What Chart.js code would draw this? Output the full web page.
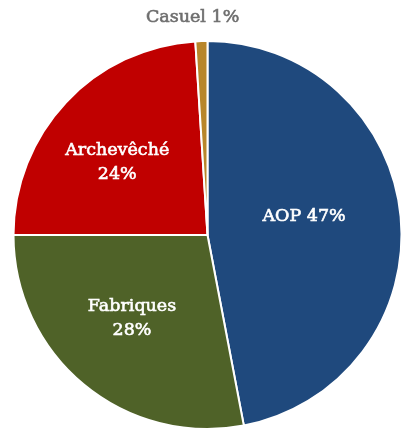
<!DOCTYPE html>
<html lang="fr">
<head>
    <meta charset="UTF-8">
    <title>Répartition des ressources</title>
    <style>
        body { margin: 0; padding: 0; background: #ffffff; }
        .chart-container { width: 408px; height: 430px; }
    </style>
    <script src="https://cdn.jsdelivr.net/npm/chart.js"></script>
</head>
<body>
    <div class="chart-container">
        <canvas id="pieChart" width="408" height="430"></canvas>
    </div>

    <script>
        // Données du graphique
        const categories = ['AOP', 'Fabriques', 'Archevêché', 'Casuel'];
        const valeurs = [47, 28, 24, 1];
        const couleurs = ['#1f497d', '#4f6228', '#c00000', '#b8862b'];

        // Position des étiquettes : fraction du rayon + petit décalage
        const labelPlace = [
            { f: 0.5, dx: 0, dy: -9, color: '#ffffff', lines: ['AOP 47%'] },
            { f: 0.57, dx: -5, dy: -2, color: '#ffffff', lines: ['Fabriques', '28%'] },
            { f: 0.61, dx: -4, dy: 8, color: '#ffffff', lines: ['Archevêché', '24%'] },
            { f: 1.13, dx: -8, dy: 2, color: '#6e6e6e', lines: ['Casuel 1%'] }
        ];

        const labelPlugin = {
            id: 'sliceLabels',
            afterDatasetsDraw(chart) {
                const ctx = chart.ctx;
                const meta = chart.getDatasetMeta(0);
                ctx.save();
                ctx.font = '17.5px "DejaVu Serif"';
                ctx.textAlign = 'center';
                ctx.textBaseline = 'middle';
                ctx.lineWidth = 0.6;
                meta.data.forEach((arc, i) => {
                    const p = labelPlace[i];
                    const mid = (arc.startAngle + arc.endAngle) / 2;
                    const r = arc.outerRadius * p.f;
                    const x = arc.x + Math.cos(mid) * r + p.dx;
                    const y = arc.y + Math.sin(mid) * r + p.dy;
                    ctx.fillStyle = p.color;
                    ctx.strokeStyle = p.color;
                    const lh = 24;
                    const y0 = y - (p.lines.length - 1) * lh / 2;
                    p.lines.forEach((t, k) => {
                        ctx.fillText(t, x, y0 + k * lh);
                        ctx.strokeText(t, x, y0 + k * lh);
                    });
                });
                ctx.restore();
            }
        };

        new Chart(document.getElementById('pieChart'), {
            type: 'pie',
            data: {
                labels: categories,
                datasets: [{
                    data: valeurs,
                    backgroundColor: couleurs,
                    borderColor: '#ffffff',
                    borderWidth: 2
                }]
            },
            options: {
                responsive: false,
                animation: false,
                layout: { padding: { top: 40, bottom: 0, left: 12, right: 5 } },
                plugins: {
                    legend: { display: false },
                    tooltip: { enabled: false }
                }
            },
            plugins: [labelPlugin]
        });
    </script>
</body>
</html>
